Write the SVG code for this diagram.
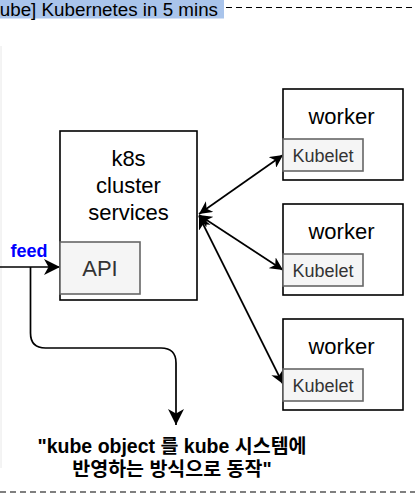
<svg xmlns="http://www.w3.org/2000/svg" width="415" height="496" viewBox="0 0 415 496">
  <defs>
    <style>
      .t { font-family: "Liberation Sans", Arial, Helvetica, sans-serif; }
      .box { fill: #ffffff; stroke: #000000; stroke-width: 1.6; }
      .sub { fill: #f5f5f5; stroke: #666666; stroke-width: 1.6; }
      .big { font-size: 22px; fill: #000000; text-anchor: middle; }
      .kub { font-size: 18px; fill: #333333; text-anchor: middle; }
      .edge { fill: none; stroke: #000000; stroke-width: 1.7; }
      .kr { font-family: "Liberation Sans", Arial, "Noto Sans CJK KR", sans-serif; font-weight: bold; font-size: 19.5px; fill: #000000; text-anchor: middle; }
    </style>
    <marker id="arr" viewBox="0 0 14 14" refX="14" refY="7" markerWidth="13" markerHeight="13" markerUnits="userSpaceOnUse" orient="auto-start-reverse">
      <path d="M0,0 L14,7 L0,14 L4,7 z" fill="#000000"/>
    </marker>
    <marker id="arrBig" viewBox="0 0 16 16" refX="16" refY="8" markerWidth="16" markerHeight="16" markerUnits="userSpaceOnUse" orient="auto-start-reverse">
      <path d="M0,0 L16,8 L0,16 L4.5,8 z" fill="#000000"/>
    </marker>
  </defs>

  <rect x="0" y="0" width="415" height="496" fill="#ffffff"/>

  <g id="container">
    <line x1="226" y1="7.5" x2="415" y2="7.5" stroke="#000000" stroke-width="1.2" stroke-dasharray="6 4"/>
    <line x1="0" y1="492" x2="415" y2="492" stroke="#000000" stroke-width="1.2" stroke-dasharray="6 4"/>
    <line x1="1" y1="46" x2="1" y2="468" stroke="#e8e8e8" stroke-width="1"/>
    <rect x="0" y="0" width="224" height="18.5" fill="#a9c4eb"/>
    <text class="t" x="218" y="15.5" font-size="18.8" text-anchor="end" fill="#000000">ube] Kubernetes in 5 mins</text>
  </g>

  <g id="connectors">
    <line class="edge" x1="199" y1="214" x2="283" y2="155" marker-start="url(#arr)" marker-end="url(#arr)"/>
    <line class="edge" x1="199" y1="215" x2="283" y2="270" marker-start="url(#arr)" marker-end="url(#arr)"/>
    <line class="edge" x1="199" y1="216" x2="283" y2="384" marker-start="url(#arr)" marker-end="url(#arr)"/>
    <line class="edge" x1="0" y1="267" x2="60" y2="267" marker-end="url(#arrBig)"/>
    <path class="edge" d="M30.5,267 V333 Q30.5,348 45.5,348 H161 Q176,348 176,363 V425" marker-end="url(#arrBig)"/>
    <text class="t" x="29" y="257" font-size="18" font-weight="bold" fill="#0000ff" text-anchor="middle">feed</text>
  </g>

  <g id="k8s">
    <rect class="box" x="60" y="131" width="137" height="169"/>
    <text class="t big" x="128.5" y="166">k8s</text>
    <text class="t big" x="128.5" y="193">cluster</text>
    <text class="t big" x="128.5" y="220">services</text>
  </g>

  <g id="api">
    <rect class="sub" x="60" y="242" width="80" height="52"/>
    <text class="t" x="100" y="276" font-size="22" fill="#333333" text-anchor="middle">API</text>
  </g>

  <g id="worker1">
    <rect class="box" x="283" y="89" width="120" height="91"/>
    <text class="t big" x="341.5" y="124">worker</text>
  </g>
  <g id="kubelet1">
    <rect class="sub" x="283" y="139" width="80" height="32"/>
    <text class="t kub" x="323" y="161.5">Kubelet</text>
  </g>

  <g id="worker2">
    <rect class="box" x="283" y="204" width="120" height="91"/>
    <text class="t big" x="341.5" y="239">worker</text>
  </g>
  <g id="kubelet2">
    <rect class="sub" x="283" y="254" width="80" height="32"/>
    <text class="t kub" x="323" y="276.5">Kubelet</text>
  </g>

  <g id="worker3">
    <rect class="box" x="283" y="319" width="120" height="91"/>
    <text class="t big" x="341.5" y="354">worker</text>
  </g>
  <g id="kubelet3">
    <rect class="sub" x="283" y="369" width="80" height="32"/>
    <text class="t kub" x="323" y="391.5">Kubelet</text>
  </g>

  <g id="note">
    <text class="kr" x="172" y="453">"kube object 를 kube 시스템에</text>
    <text class="kr" x="172" y="476">반영하는 방식으로 동작"</text>
  </g>
</svg>
